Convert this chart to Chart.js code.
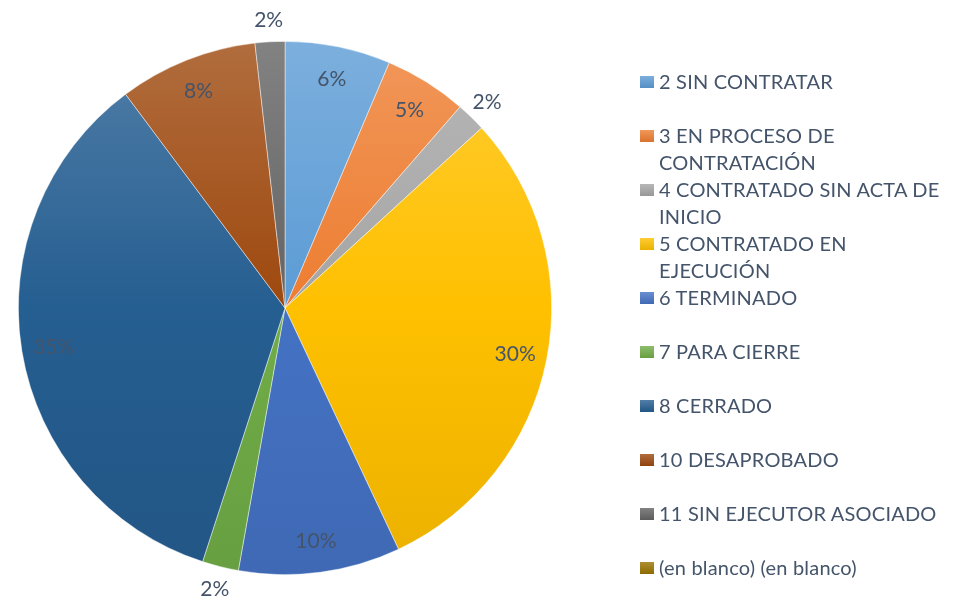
<!DOCTYPE html>
<html>
<head>
<meta charset="utf-8">
<script src="https://cdn.jsdelivr.net/npm/chart.js@4/dist/chart.umd.min.js"></script>
<style>
  body { margin: 0; background: #fff; }
  #wrap { position: relative; width: 958px; height: 600px; }
  #legend { position: absolute; left: 0; top: 0; font-family: Lato, sans-serif; font-size: 20px; letter-spacing: 0.2px; color: #44546A; }
  .item { position: absolute; left: 640px; width: 310px; line-height: 27px; }
  .box { position: absolute; left: 0; top: 8px; width: 14px; height: 12px; }
  .txt { position: absolute; left: 19px; top: 0; white-space: nowrap; }
</style>
</head>
<body>
<div id="wrap">
  <canvas id="pie" width="958" height="600"></canvas>
  <div id="legend"></div>
</div>
<script>
let labels = [
    '2 SIN CONTRATAR',
    '3 EN PROCESO DE CONTRATACIÓN',
    '4 CONTRATADO SIN ACTA DE INICIO',
    '5 CONTRATADO EN EJECUCIÓN',
    '6 TERMINADO',
    '7 PARA CIERRE',
    '8 CERRADO',
    '10 DESAPROBADO',
    '11 SIN EJECUTOR ASOCIADO',
    '(en blanco) (en blanco)'
];

// legend lines as they wrap in the picture
let legendLines = [
    ['2 SIN CONTRATAR'],
    ['3 EN PROCESO DE', 'CONTRATACIÓN'],
    ['4 CONTRATADO SIN ACTA DE', 'INICIO'],
    ['5 CONTRATADO EN', 'EJECUCIÓN'],
    ['6 TERMINADO'],
    ['7 PARA CIERRE'],
    ['8 CERRADO'],
    ['10 DESAPROBADO'],
    ['11 SIN EJECUTOR ASOCIADO'],
    ['(en blanco) (en blanco)']
];

let values = [6.4, 5.0, 1.8, 29.8, 9.8, 2.2, 34.8, 8.4, 1.8, 0];

let baseColors = [
    '#5B9BD5', '#ED7D31', '#A5A5A5', '#FFC000', '#4472C4',
    '#70AD47', '#255E91', '#9E480E', '#636363', '#997300'
];

function mix(hex, target, t) {
    let r = parseInt(hex.slice(1, 3), 16), g = parseInt(hex.slice(3, 5), 16), b = parseInt(hex.slice(5, 7), 16);
    r = Math.round(r + (target - r) * t);
    g = Math.round(g + (target - g) * t);
    b = Math.round(b + (target - b) * t);
    return 'rgb(' + r + ',' + g + ',' + b + ')';
}

function sliceFill(ctx) {
    let chart = ctx.chart;
    let area = chart.chartArea;
    let base = baseColors[ctx.dataIndex];
    if (!area) return base;
    let grad = chart.ctx.createLinearGradient(0, area.top, 0, area.bottom);
    grad.addColorStop(0, mix(base, 255, 0.2));
    grad.addColorStop(0.5, base);
    grad.addColorStop(1, mix(base, 0, 0.08));
    return grad;
}

const pctLabels = {
    id: 'pctLabels',
    afterDatasetsDraw(chart) {
        let ctx = chart.ctx;
        let meta = chart.getDatasetMeta(0);
        let data = chart.data.datasets[0].data;
        let total = data.reduce((a, b) => a + b, 0);
        ctx.save();
        ctx.font = '21px Lato, sans-serif';
        ctx.fillStyle = '#44546A';
        ctx.textAlign = 'center';
        ctx.textBaseline = 'middle';
        meta.data.forEach((arc, i) => {
            if (!data[i]) return;
            let p = arc.getProps(['x', 'y', 'startAngle', 'endAngle', 'outerRadius'], true);
            let mid = (p.startAngle + p.endAngle) / 2;
            let pct = data[i] / total * 100;
            let r = p.outerRadius * (pct < 3 ? 1.085 : 0.88);
            ctx.fillText(Math.round(pct) + '%', p.x + Math.cos(mid) * r, p.y + Math.sin(mid) * r + 1);
        });
        ctx.restore();
    }
};

new Chart(document.getElementById('pie'), {
    type: 'pie',
    data: {
        labels: labels,
        datasets: [{
            data: values,
            backgroundColor: sliceFill,
            borderColor: 'rgba(255,255,255,0.6)',
            borderWidth: 0.75
        }]
    },
    options: {
        responsive: false,
        animation: false,
        layout: { padding: { left: 18, right: 406, top: 41, bottom: 25 } },
        plugins: {
            legend: { display: false },
            tooltip: { enabled: false }
        }
    },
    plugins: [pctLabels]
});

let legend = document.getElementById('legend');
legendLines.forEach((lines, i) => {
    let item = document.createElement('div');
    item.className = 'item';
    item.style.top = (81 + 54 * i - 13.5) + 'px';
    let box = document.createElement('div');
    box.className = 'box';
    box.style.background = 'linear-gradient(' + mix(baseColors[i], 255, 0.2) + ',' + mix(baseColors[i], 0, 0.08) + ')';
    let txt = document.createElement('div');
    txt.className = 'txt';
    txt.innerHTML = lines.join('<br>');
    item.appendChild(box);
    item.appendChild(txt);
    legend.appendChild(item);
});
</script>
</body>
</html>
